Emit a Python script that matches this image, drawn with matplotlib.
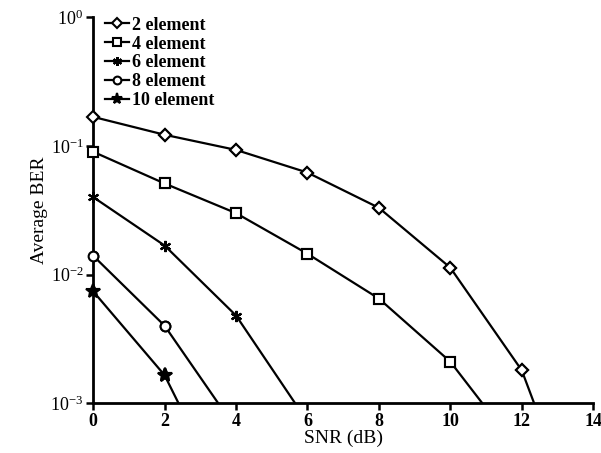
import numpy as np
import matplotlib.pyplot as plt

plt.rcParams['font.family'] = ['Liberation Serif', 'DejaVu Serif']
plt.rcParams['mathtext.fontset'] = 'stix'

snr = [0, 2, 4, 6, 8, 10, 12, 14]
ber_2 = [0.168, 0.122, 0.093, 0.062, 0.033, 0.0113, 0.0018, 0.00006]
ber_4 = [0.090, 0.051, 0.030, 0.0145, 0.0065, 0.0021, 0.0004]
ber_6 = [0.040, 0.0168, 0.0048, 0.00072]
ber_8 = [0.0140, 0.0040, 0.00063]
ber_10 = [0.0074, 0.00165, 0.000126]

series = [
    ('2 element', ber_2, 'D', 'white', 6),
    ('4 element', ber_4, 's', 'white', 6.5),
    ('6 element', ber_6, (6, 2, 0), 'black', 8),
    ('8 element', ber_8, 'o', 'white', 7),
    ('10 element', ber_10, '*', 'black', 10),
]

ymin = 1e-3

fig = plt.figure(figsize=(6.01, 4.53), dpi=100)
ax = fig.add_axes([0.155, 0.110, 0.832, 0.852])

for label, ber, mk, fc, ms in series:
    x = np.array(snr[:len(ber)])
    y = np.array(ber)
    # line is clipped at the axes, markers are not
    ax.semilogy(x, y, color='black', lw=1.6, label=label, marker=mk,
                markerfacecolor=fc, markeredgecolor='black', markeredgewidth=1.5,
                markersize=ms, markevery=list(np.where(y >= ymin)[0]))
    keep = y >= ymin
    ax.semilogy(x[keep], y[keep], ls='none', marker=mk, markerfacecolor=fc,
                markeredgecolor='black', markeredgewidth=1.5, markersize=ms,
                clip_on=False, zorder=5)

ax.set_xlim(0, 14)
ax.set_ylim(ymin, 1)
ax.set_xticks(range(0, 15, 2))
ax.yaxis.set_minor_locator(plt.NullLocator())
for s in ['top', 'right']:
    ax.spines[s].set_visible(False)
for s in ['left', 'bottom']:
    ax.spines[s].set_linewidth(2.0)
ax.tick_params(direction='out', width=1.8, length=5, labelsize=13, pad=2)
for t in ax.get_xticklabels():
    t.set_fontweight('bold')
ax.set_xlabel('SNR (dB)', fontsize=14, labelpad=0)
ax.set_ylabel('Average BER', fontsize=14, labelpad=2)

leg = ax.legend(loc='upper left', frameon=False, prop={'size': 13, 'weight': 'bold'},
                handlelength=1.3, handletextpad=0.15, labelspacing=0.1,
                borderaxespad=0.0, bbox_to_anchor=(0.01, 1.02), markerscale=0.8)

fig.savefig('out.png', dpi=100)
